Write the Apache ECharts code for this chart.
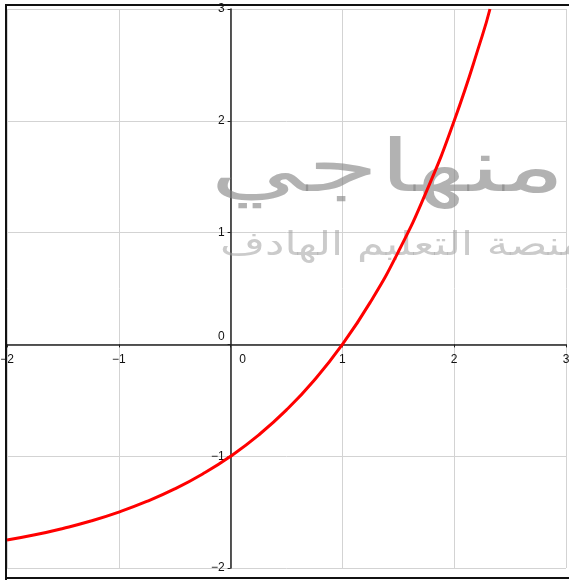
<!DOCTYPE html>
<html>
<head>
<meta charset="utf-8">
<script src="https://cdn.jsdelivr.net/npm/echarts@6/dist/echarts.min.js"></script>
<style>
    html, body { margin: 0; padding: 0; background: #fff; }
    #graph { width: 569px; height: 580px; }
</style>
</head>
<body>
<div id="graph"></div>
<script>
// Curve points (y = 2^x - 2)
var xValues = [-2, -1.75, -1.5, -1.25, -1, -0.75, -0.5, -0.25, 0, 0.25, 0.5, 0.75, 1, 1.25, 1.5, 1.75, 2, 2.25, 2.32];
var yValues = [-1.75, -1.703, -1.646, -1.58, -1.5, -1.405, -1.293, -1.159, -1, -0.811, -0.586, -0.318, 0, 0.378, 0.828, 1.364, 2, 2.757, 3];

// Axis ticks
var xTicks = [-2, -1, 0, 1, 2, 3];
var xTickLabels = ['−2', '−1', '0', '1', '2', '3'];
var yTicks = [-2, -1, 0, 1, 2, 3];
var yTickLabels = ['−2', '−1', '0', '1', '2', '3'];

// Watermark
var markTitle = 'منهاجي';
var markSub = 'منصة التعليم الهادف';

var curveData = xValues.map(function (x, i) { return [x, yValues[i]]; });

// Grid box in pixels
var gridLeft = 7, gridRight = 3, gridTop = 9, gridBottom = 12;
var plotW = 569 - gridLeft - gridRight;
var plotH = 580 - gridTop - gridBottom;
// move axes onto the zero lines
var xAxisShift = -plotH * (0 - yTicks[0]) / (yTicks[yTicks.length - 1] - yTicks[0]);
var yAxisShift = -plotW * (0 - xTicks[0]) / (xTicks[xTicks.length - 1] - xTicks[0]);

var chart = echarts.init(document.getElementById('graph'));

var gridLine = { show: true, lineStyle: { color: '#d3d3d3', width: 1 } };

chart.setOption({
    animation: false,
    textStyle: { fontFamily: 'Liberation Sans, Arial, sans-serif' },
    grid: {
        left: gridLeft, right: gridRight, top: gridTop, bottom: gridBottom,
        containLabel: false, outerBoundsMode: 'none'
    },
    xAxis: {
        type: 'value',
        position: 'bottom',
        offset: xAxisShift,
        min: xTicks[0],
        max: xTicks[xTicks.length - 1],
        interval: 1,
        splitLine: gridLine,
        axisLine: { onZero: false, lineStyle: { color: '#222', width: 1.5 } },
        axisTick: { show: true, length: 3, lineStyle: { color: '#222' } },
        axisLabel: {
            margin: 9,
            fontSize: 12,
            color: '#111',
            hideOverlap: false,
            showMinLabel: true,
            showMaxLabel: true,
            formatter: function (v) {
                var s = xTickLabels[xTicks.indexOf(v)];
                return v === 0 ? '{z|' + s + '}' : s;
            },
            rich: { z: { padding: [0, 0, 0, 24], fontSize: 12, color: '#111' } }
        }
    },
    yAxis: {
        type: 'value',
        position: 'left',
        offset: yAxisShift,
        min: yTicks[0],
        max: yTicks[yTicks.length - 1],
        interval: 1,
        splitLine: gridLine,
        axisLine: { onZero: false, lineStyle: { color: '#222', width: 1.5 } },
        axisTick: { show: true, length: 3, lineStyle: { color: '#222' } },
        axisLabel: {
            margin: 6,
            fontSize: 12,
            color: '#111',
            hideOverlap: false,
            showMinLabel: true,
            showMaxLabel: true,
            formatter: function (v) {
                var s = yTickLabels[yTicks.indexOf(v)];
                return v === 0 ? '{z|' + s + '}' : s;
            },
            rich: { z: { padding: [0, 0, 16, 0], fontSize: 12, color: '#111' } }
        }
    },
    graphic: [
        // watermark
        {
            type: 'text', x: 210, y: 136, scaleX: 1.42, scaleY: 0.88, z: 1, silent: true,
            style: { text: markTitle, font: '82px "DejaVu Sans"', fill: 'rgba(130,130,130,0.62)' }
        },
        {
            type: 'text', x: 220, y: 230, scaleX: 1.28, scaleY: 0.95, z: 1, silent: true,
            style: { text: markSub, font: '34px "DejaVu Sans"', fill: 'rgba(160,160,160,0.55)' }
        },
        // frame
        { type: 'line', z: 100, shape: { x1: 6, y1: 5, x2: 569, y2: 5 }, style: { stroke: '#111', lineWidth: 2 } },
        { type: 'line', z: 100, shape: { x1: 6, y1: 4, x2: 6, y2: 580 }, style: { stroke: '#111', lineWidth: 2 } },
        { type: 'line', z: 100, shape: { x1: 6, y1: 578, x2: 569, y2: 578 }, style: { stroke: '#111', lineWidth: 2 } }
    ],
    series: [{
        type: 'line',
        data: curveData,
        smooth: true,
        showSymbol: false,
        clip: true,
        z: 5,
        lineStyle: { color: '#ff0000', width: 3 }
    }]
});
</script>
</body>
</html>
